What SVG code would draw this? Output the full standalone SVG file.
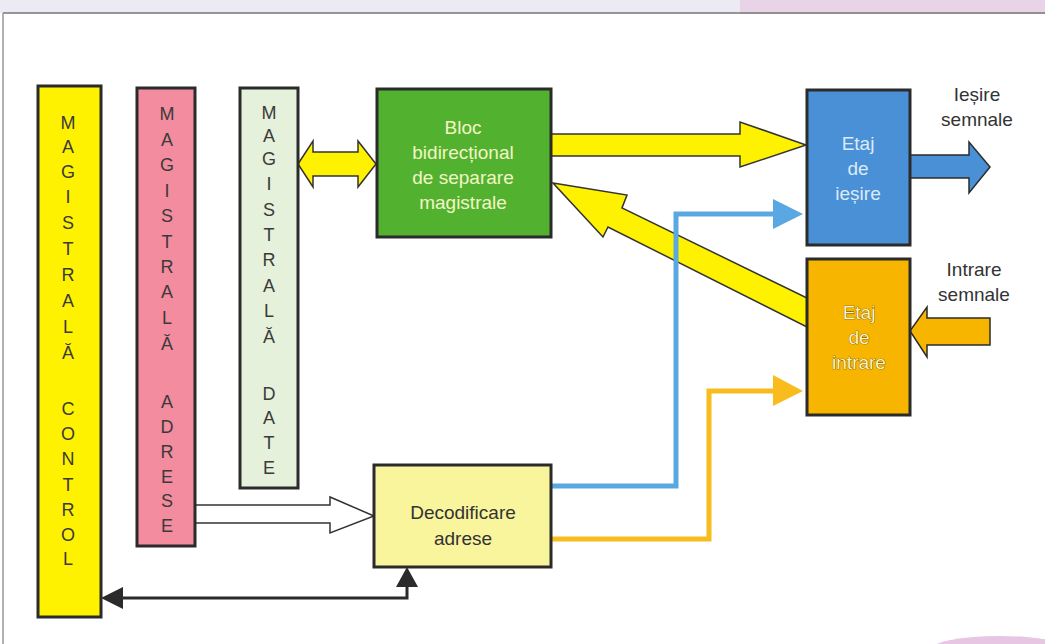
<svg xmlns="http://www.w3.org/2000/svg" width="1045" height="644" viewBox="0 0 1045 644">
<defs>
<style>
.box{stroke:#2b2b2b;stroke-width:3}
.bus{font-family:"Liberation Sans",Arial,sans-serif;font-size:18px;fill:#3a3a3a;text-anchor:middle;dominant-baseline:central}
.lbl{font-family:"Liberation Sans",Arial,sans-serif;font-size:19px;text-anchor:middle}
.ya{fill:#FFF200;stroke:#333;stroke-width:1.5;stroke-linejoin:miter}
</style>
</defs>
<rect x="0" y="0" width="1045" height="644" fill="#ffffff"/>
<rect x="0" y="0" width="1045" height="13" fill="#ECEAF2"/>
<rect x="740" y="0" width="305" height="14" fill="#E9D3E6"/>
<line x1="3" y1="13" x2="1045" y2="13" stroke="#777" stroke-width="1.5"/>
<line x1="3" y1="13" x2="3" y2="644" stroke="#999" stroke-width="1.5"/>
<ellipse cx="1000" cy="650" rx="70" ry="14" fill="#E7C6E3"/>

<g id="connectors">
  <polygon class="ya" points="298,164 313,141 313,152 358,152 358,141 376,164 358,187 358,176 313,176 313,187"/>
  <polygon class="ya" points="551,134 740,134 740,122 806,145 740,167 740,156 551,156"/>
  <polygon class="ya" points="553,183 627,195 622,208 807,298 807,327 608,227 603,237"/>
  <polygon fill="#4A90D6" stroke="#2b2b2b" stroke-width="1.5" points="910,155 969,155 969,142 990,167 969,193 969,178 910,178"/>
  <polygon fill="#F7B500" stroke="#2b2b2b" stroke-width="1.5" points="990,318 927,318 927,307 910,331 927,357 927,345 990,345"/>
  <polyline fill="#ffffff" stroke="#333" stroke-width="1.5" points="195,505 330,505 330,497 374,516 330,533 330,523 195,523"/>
  <polyline fill="none" stroke="#2b2b2b" stroke-width="3" points="120,598 407,598 407,586"/>
  <polygon fill="#2b2b2b" points="101,598 123,587 123,609"/>
  <polygon fill="#2b2b2b" points="407,567 396,587 418,587"/>
  <polyline fill="none" stroke="#5AA8E2" stroke-width="5" points="551,486 676,486 676,214 776,214"/>
  <polygon fill="#5AA8E2" points="773,199 803,214 773,229"/>
  <polyline fill="none" stroke="#F8BC1E" stroke-width="5" points="551,539 709,539 709,391 776,391"/>
  <polygon fill="#F8BC1E" points="773,375 803,391 773,406"/>
</g>

<g id="bus-control">
  <rect class="box" x="38" y="86" width="63" height="531" fill="#FFF200"/>
  <g class="bus">
    <text x="68" y="123">M</text><text x="68" y="147">A</text><text x="68" y="172">G</text><text x="68" y="197">I</text>
    <text x="68" y="223">S</text><text x="68" y="249">T</text><text x="68" y="275">R</text><text x="68" y="301">A</text>
    <text x="68" y="327">L</text><text x="68" y="353">Ă</text>
    <text x="68" y="409">C</text><text x="68" y="434">O</text><text x="68" y="459">N</text><text x="68" y="485">T</text>
    <text x="68" y="510">R</text><text x="68" y="535">O</text><text x="68" y="559">L</text>
  </g>
</g>

<g id="bus-adrese">
  <rect class="box" x="137" y="88" width="58" height="458" fill="#F28C9E"/>
  <g class="bus">
    <text x="167" y="114">M</text><text x="167" y="140">A</text><text x="167" y="165">G</text><text x="167" y="191">I</text>
    <text x="167" y="216">S</text><text x="167" y="242">T</text><text x="167" y="267">R</text><text x="167" y="292">A</text>
    <text x="167" y="318">L</text><text x="167" y="344">Ă</text>
    <text x="167" y="402">A</text><text x="167" y="427">D</text><text x="167" y="452">R</text><text x="167" y="477">E</text>
    <text x="167" y="501">S</text><text x="167" y="526">E</text>
  </g>
</g>

<g id="bus-date">
  <rect class="box" x="240" y="88" width="58" height="400" fill="#E5F1DB"/>
  <g class="bus">
    <text x="269" y="113">M</text><text x="269" y="136">A</text><text x="269" y="159">G</text><text x="269" y="184">I</text>
    <text x="269" y="210">S</text><text x="269" y="235">T</text><text x="269" y="260">R</text><text x="269" y="286">A</text>
    <text x="269" y="311">L</text><text x="269" y="337">Ă</text>
    <text x="269" y="394">D</text><text x="269" y="418">A</text><text x="269" y="443">T</text><text x="269" y="468">E</text>
  </g>
</g>

<g id="bloc">
  <rect class="box" x="377" y="89" width="174" height="148" fill="#52B230"/>
  <g class="lbl" fill="#F2F6C4">
    <text x="463" y="134">Bloc</text>
    <text x="463" y="159">bidirecțional</text>
    <text x="463" y="184">de separare</text>
    <text x="463" y="209">magistrale</text>
  </g>
</g>

<g id="etaj-iesire">
  <rect class="box" x="807" y="90" width="103" height="155" fill="#4A90D6"/>
  <g class="lbl" fill="#DCEAF8">
    <text x="858" y="150">Etaj</text>
    <text x="858" y="175">de</text>
    <text x="858" y="200">ieșire</text>
  </g>
</g>

<g id="etaj-intrare">
  <rect class="box" x="807" y="259" width="103" height="156" fill="#F7B500"/>
  <g class="lbl" fill="#FFF2C4" stroke="#5a4300" stroke-width="0.7" paint-order="stroke">
    <text x="859" y="319">Etaj</text>
    <text x="859" y="344">de</text>
    <text x="859" y="369">intrare</text>
  </g>
</g>

<g id="decodificare">
  <rect class="box" x="374" y="465" width="177" height="102" fill="#F8F59C"/>
  <g class="lbl" fill="#333">
    <text x="463" y="519">Decodificare</text>
    <text x="463" y="545">adrese</text>
  </g>
</g>

<g id="labels" class="lbl" fill="#333">
  <text x="977" y="101">Ieșire</text>
  <text x="977" y="126">semnale</text>
  <text x="974" y="276">Intrare</text>
  <text x="974" y="301">semnale</text>
</g>
</svg>
